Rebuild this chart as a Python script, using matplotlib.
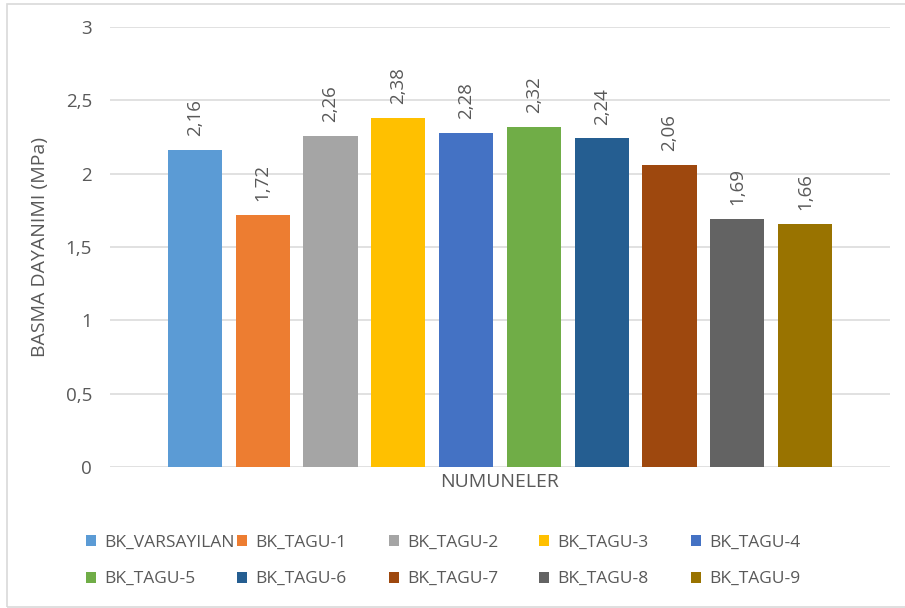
import matplotlib
matplotlib.use("Agg")
import matplotlib.pyplot as plt
from matplotlib.patches import Patch, Rectangle

# Compressive strength per sample
series = ["BK_VARSAYILAN", "BK_TAGU-1", "BK_TAGU-2", "BK_TAGU-3", "BK_TAGU-4",
          "BK_TAGU-5", "BK_TAGU-6", "BK_TAGU-7", "BK_TAGU-8", "BK_TAGU-9"]
values = [2.16, 1.72, 2.26, 2.38, 2.28, 2.32, 2.24, 2.06, 1.69, 1.66]
colors = ["#5B9BD5", "#ED7D31", "#A5A5A5", "#FFC000", "#4472C4",
          "#70AD47", "#255E91", "#9E480E", "#636363", "#997300"]
yticks = [0, 0.5, 1, 1.5, 2, 2.5, 3]
ytick_labels = ["0", "0,5", "1", "1,5", "2", "2,5", "3"]

plt.rcParams["font.family"] = ["Open Sans", "DejaVu Sans"]
TEXT = "#595959"
GRID = "#D9D9D9"

W, H = 905, 608
fig = plt.figure(figsize=(W / 100, H / 100), dpi=100)
fig.patch.set_facecolor("white")

# chart border
fig.add_artist(Rectangle((7 / W, 1 / H), 1.0, (H - 5) / H,
                         transform=fig.transFigure, fill=False,
                         edgecolor=GRID, linewidth=1.2))

ax = fig.add_axes([110 / W, 1 - 467 / H, 780 / W, 440 / H])
x = list(range(len(values)))
ax.bar(x, values, width=0.8, color=colors, zorder=3)

for xi, v in zip(x, values):
    ax.annotate(f"{v:.2f}".replace(".", ","), (xi, v),
                xytext=(0, 10), textcoords="offset points",
                rotation=90, ha="center", va="bottom",
                fontsize=13.5, color=TEXT)

ax.set_xlim(-1.254, 10.254)
ax.set_ylim(0, 3)
ax.set_yticks(yticks)
ax.set_yticklabels(ytick_labels)
ax.set_xticks([])
ax.tick_params(axis="y", length=0, pad=13, labelsize=13.5, labelcolor=TEXT)
ax.grid(axis="y", color=GRID, linewidth=1.1, zorder=0)
for s in ax.spines.values():
    s.set_visible(False)

ax.set_ylabel("BASMA DAYANIMI (MPa)", fontsize=14, color=TEXT)
ax.yaxis.set_label_coords(-(110 - 49) / 780, 0.5)
ax.set_xlabel("NUMUNELER", fontsize=14, color=TEXT, labelpad=4)

# legend laid out in five equal-width columns
col_x = [86, 237, 389, 539, 691]
for c in range(5):
    handles = [Patch(facecolor=colors[c], edgecolor="none"),
               Patch(facecolor=colors[c + 5], edgecolor="none")]
    labels = [series[c], series[c + 5]]
    fig.legend(handles, labels, loc="upper left",
               bbox_to_anchor=(col_x[c] / W, 1 - 535 / H),
               frameon=False, fontsize=12.5, labelcolor=TEXT,
               handlelength=0.6, handleheight=0.6, handletextpad=0.45,
               labelspacing=1.17, borderpad=0, borderaxespad=0)

fig.savefig("out.png", dpi=100, facecolor="white")
